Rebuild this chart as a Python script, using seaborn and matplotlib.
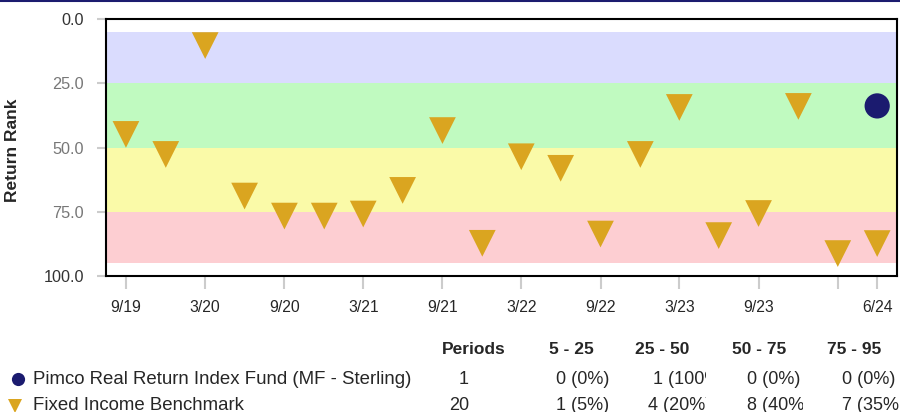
import matplotlib
matplotlib.use("Agg")
import matplotlib.pyplot as plt
from matplotlib.lines import Line2D
from matplotlib.transforms import Bbox, TransformedBbox
import pandas as pd
import seaborn as sns

# quarter ends 9/19 .. 6/24
quarter_dates = ["2019-09-30", "2019-12-31", "2020-03-31", "2020-06-30", "2020-09-30",
                 "2020-12-31", "2021-03-31", "2021-06-30", "2021-09-30", "2021-12-31",
                 "2022-03-31", "2022-06-30", "2022-09-30", "2022-12-31", "2023-03-31",
                 "2023-06-30", "2023-09-30", "2023-12-31", "2024-03-31", "2024-06-30"]
benchmark_rank = [44.9, 52.7, 10.3, 68.9, 76.7, 76.7, 75.9, 66.7, 43.4, 87.3,
                  53.6, 58.1, 83.7, 52.7, 34.4, 84.3, 75.7, 34.0, 91.3, 87.4]
fund_dates = ["2024-06-30"]
fund_rank = [33.8]

tick_dates = ["2019-09-30", "2020-03-31", "2020-09-30", "2021-03-31", "2021-09-30",
              "2022-03-31", "2022-09-30", "2023-03-31", "2023-09-30", "2024-03-31", "2024-06-30"]
tick_labels = ["9/19", "3/20", "9/20", "3/21", "9/21", "3/22", "9/22", "3/23", "9/23", "", "6/24"]

# rank bands (from, to, colour)
bands = [(5, 25, "#DADCFE"), (25, 50, "#C0FAC0"), (50, 75, "#FAFAA8"), (75, 95, "#FDCED2")]

fund_name = "Pimco Real Return Index Fund (MF - Sterling)"
bench_name = "Fixed Income Benchmark"
table_header = ["Periods", "5 - 25", "25 - 50", "50 - 75", "75 - 95"]
fund_row = ["1", "0 (0%)", "1 (100%)", "0 (0%)", "0 (0%)"]
bench_row = ["20", "1 (5%)", "4 (20%)", "8 (40%)", "7 (35%)"]

gold = "#DAA520"
navy = "#1B1B6F"

sns.set_style("white")
plt.rcParams["font.family"] = ["Liberation Sans", "DejaVu Sans"]

bench = pd.DataFrame({"date": pd.to_datetime(quarter_dates), "rank": benchmark_rank})
fund = pd.DataFrame({"date": pd.to_datetime(fund_dates), "rank": fund_rank})

fig = plt.figure(figsize=(9, 4.12), dpi=100)
ax = fig.add_axes([0.1178, 0.3303, 0.9963 - 0.1178, 0.9536 - 0.3303])

for lo, hi, col in bands:
    ax.axhspan(lo, hi, color=col, lw=0, zorder=0)

sns.scatterplot(data=bench, x="date", y="rank", marker="v", s=370, color=gold,
                edgecolor="none", ax=ax, legend=False, zorder=3)
sns.scatterplot(data=fund, x="date", y="rank", marker="o", s=330, color=navy,
                edgecolor="none", ax=ax, legend=False, zorder=4)

ax.set_ylim(100, 0)
ax.set_xlim(pd.Timestamp("2019-08-15"), pd.Timestamp("2024-08-14"))
ax.set_yticks([0, 25, 50, 75, 100])
ax.set_yticklabels(["0.0", "25.0", "50.0", "75.0", "100.0"])
for lab, c in zip(ax.get_yticklabels(), ["#333333", "#777777", "#777777", "#777777", "#333333"]):
    lab.set_color(c)
ax.set_xticks(pd.to_datetime(tick_dates))
ax.set_xticklabels(tick_labels)
ax.tick_params(axis="y", length=6.5, width=1.5, color="#cccccc", pad=9.5, labelsize=11.7, left=True)
ax.tick_params(axis="x", length=9.5, width=1.5, color="#cccccc", pad=7.5, labelsize=11.3, bottom=True)
ax.set_xlabel("")
ax.set_ylabel("Return Rank", fontsize=12.5, fontweight="bold")
ax.yaxis.set_label_coords(-0.109, 0.49)
for sp in ax.spines.values():
    sp.set_color("black")
    sp.set_linewidth(1.5)

# navy rule along the top of the figure
fig.add_artist(Line2D([0, 1], [0.998, 0.998], transform=fig.transFigure, color=navy, lw=1.5))

# legend + summary table below the plot
H = 412.0
def fy(py):
    return 1 - py / H

fig.add_artist(Line2D([18 / 900], [fy(379)], transform=fig.transFigure, marker="o",
                      markersize=9.5, color=navy, markeredgewidth=0, linestyle="none"))
fig.add_artist(Line2D([15 / 900], [fy(405.5)], transform=fig.transFigure, marker="v",
                      markersize=9.5, color=gold, markeredgewidth=0, linestyle="none"))
fig.text(33 / 900, fy(379), fund_name, fontsize=13.4, va="center", ha="left")
fig.text(33 / 900, fy(405), bench_name, fontsize=13.4, va="center", ha="left")

head_x = [442, 549, 635, 732, 827]
for x, t in zip(head_x, table_header):
    fig.text(x / 900, fy(350), t, fontsize=12.5, fontweight="bold", va="center", ha="left")

val_x = [[469, 556, 653, 747, 842], [469, 556, 648, 747, 842]]
clip_r = [900, 620, 706, 803, 899]
for r, (row, py) in enumerate([(fund_row, 379), (bench_row, 405)]):
    for c, t in enumerate(row):
        ha = "right" if c == 0 else "left"
        txt = fig.text(val_x[r][c] / 900, fy(py), t, fontsize=13, va="center", ha=ha)
        if c > 0:
            box = TransformedBbox(Bbox([[val_x[r][c] / 900 - 0.01, 0], [clip_r[c] / 900, 1]]),
                                  fig.transFigure)
            txt.set_clip_box(box)
            txt.set_clip_on(True)

fig.savefig("out.png", dpi=100)
